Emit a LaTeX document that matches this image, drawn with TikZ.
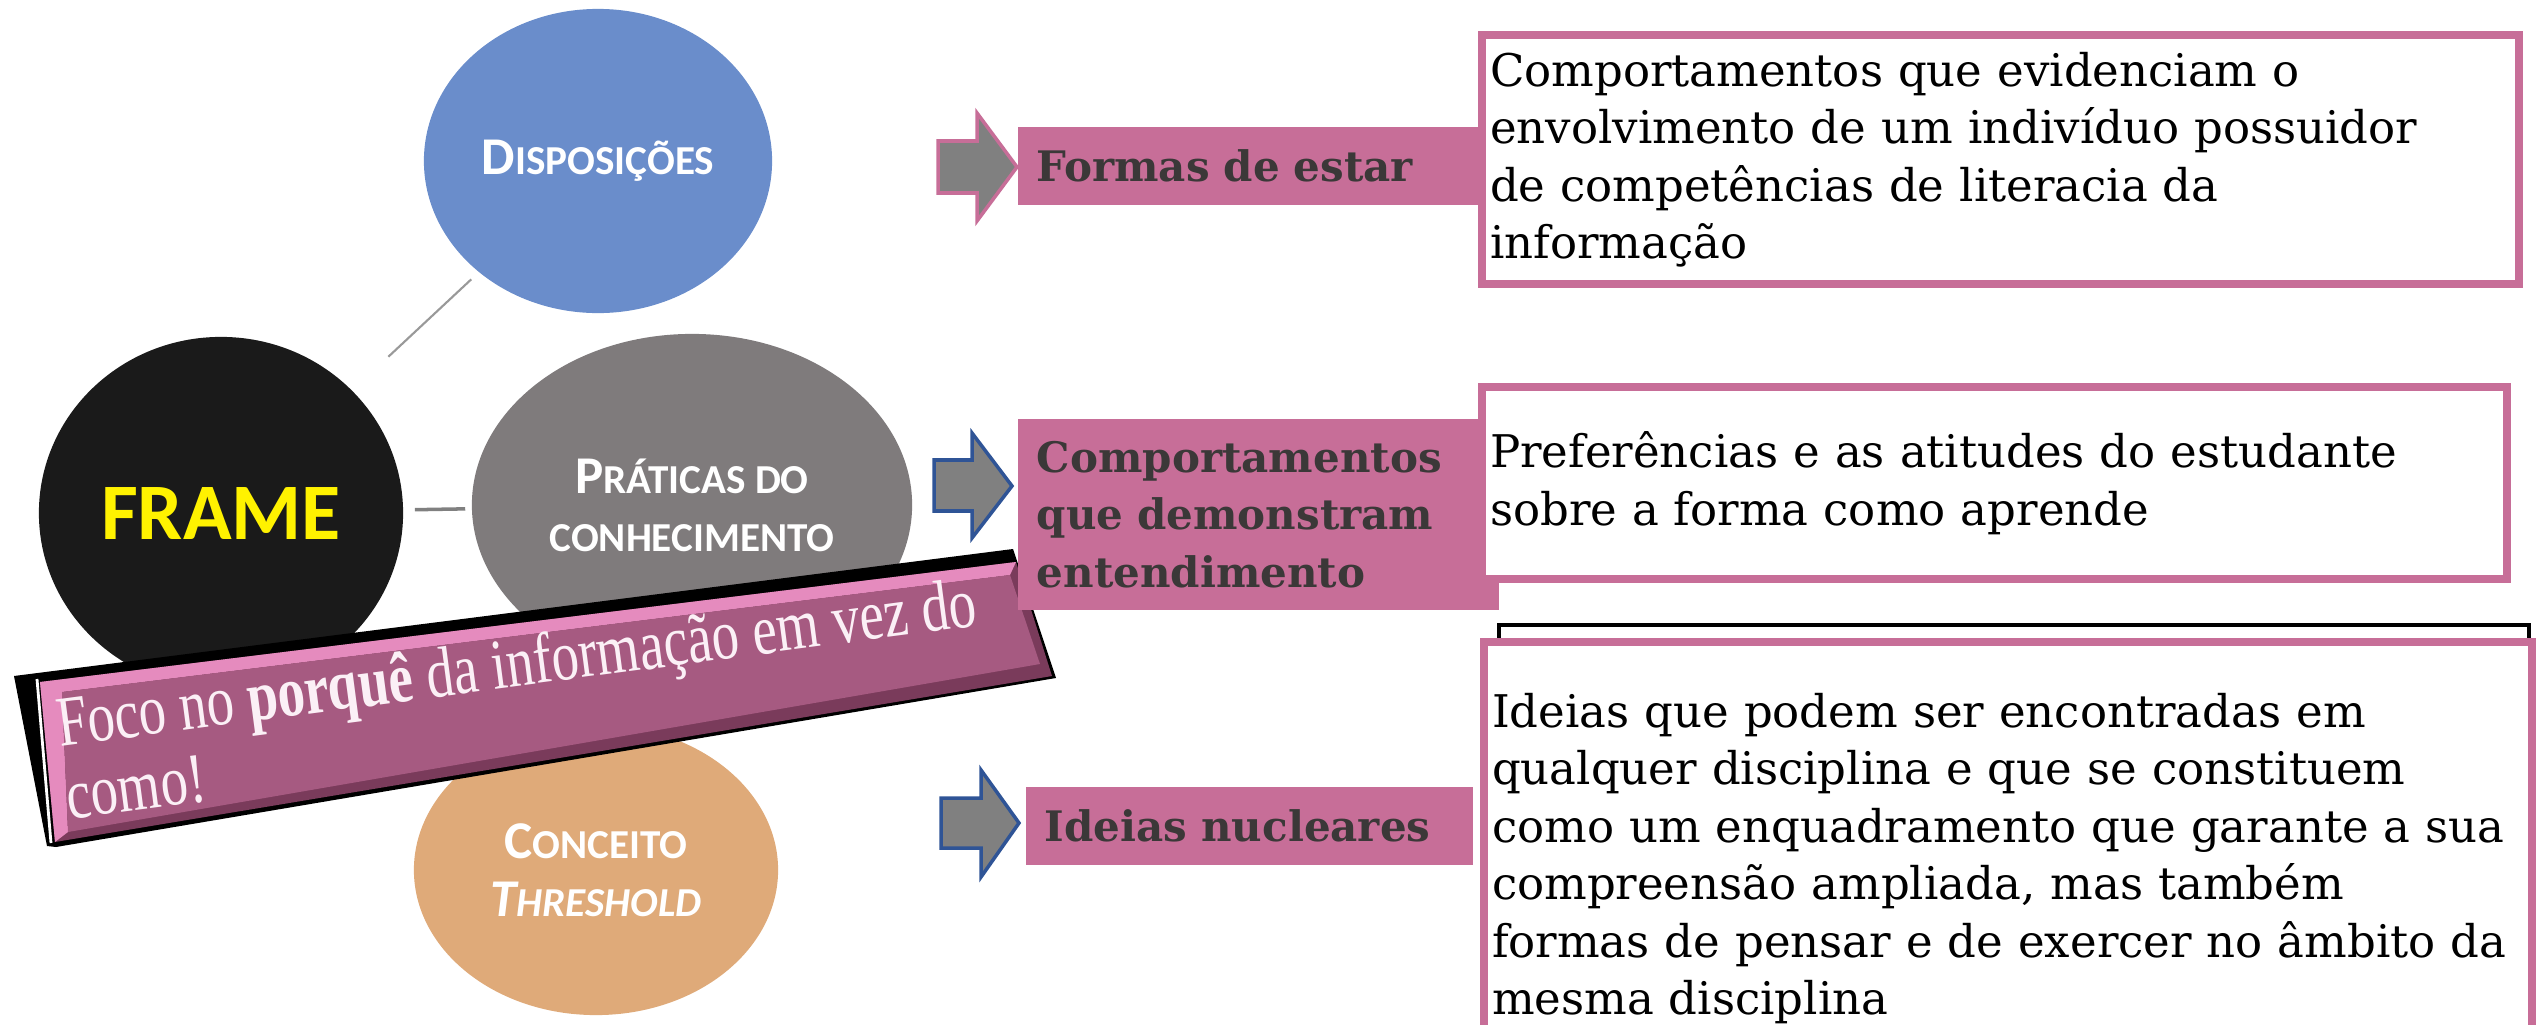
\documentclass[tikz,border=0pt]{standalone}
\usepackage{fontspec}
\setmainfont{DejaVu Serif}
\newfontfamily\bubblefont{Carlito}
\newfontfamily\bannerfont{Liberation Serif}
\usetikzlibrary{shapes.geometric}

\definecolor{dispblue}{HTML}{6A8DCB}
\definecolor{pratgray}{HTML}{7F7B7C}
\definecolor{frameblack}{HTML}{1A1A1A}
\definecolor{concorange}{HTML}{DFAA79}
\definecolor{tagpink}{HTML}{C76E98}
\definecolor{tagtext}{HTML}{3B3838}
\definecolor{arrowgray}{HTML}{808080}
\definecolor{arrowblue}{HTML}{2F5496}
\definecolor{bannerface}{HTML}{A65A81}
\definecolor{bannerlight}{HTML}{E58BBE}
\definecolor{bannerdark}{HTML}{7A3B5B}
\definecolor{bannertext}{HTML}{FBF0F6}

\newcommand{\bubcap}[2]{{\fontsize{15.1pt}{16.5pt}\selectfont #1}#2}

\begin{document}
\begin{tikzpicture}[x=0.01cm, y=-0.01cm,
	bubble/.style={ellipse, inner sep=0pt, text=white, align=center,
		font=\bubblefont\bfseries\fontsize{11.7pt}{16.5pt}\selectfont},
	link/.style={draw=gray!80, line width=0.6pt},
	blockarrow/.style={fill=arrowgray, line width=1pt, line join=miter},
	tag/.style={fill=tagpink, anchor=north west, inner xsep=0.19cm, align=left, text=tagtext,
		font=\bfseries\fontsize{11.95pt}{16.36pt}\selectfont},
	infobox/.style={draw=tagpink, line width=0.08cm, fill=white, anchor=north west,
		inner xsep=0.08cm, align=left, font=\fontsize{12.8pt}{16.36pt}\selectfont}]
	\useasboundingbox (0,0) rectangle (2539,1024);

	% bubbles
	\node[bubble, fill=dispblue, minimum width=3.48cm, minimum height=3.04cm] (disp) at (598,161) {\bubcap{D}{ISPOSIÇÕES}};
	\node[bubble, fill=frameblack, minimum width=3.64cm, minimum height=3.52cm, text=yellow,
		font=\bubblefont\bfseries\fontsize{22.8pt}{24pt}\selectfont] (frame) at (221,513) {FRAME};
	\node[bubble, fill=pratgray, minimum width=4.40cm, minimum height=3.42cm] (prat) at (692,505) {\bubcap{P}{RÁTICAS DO}\\CONHECIMENTO};
	\node[bubble, fill=concorange, minimum width=3.64cm, minimum height=2.90cm] (conc) at (596,870) {\bubcap{C}{ONCEITO}\\\textit{\bubcap{T}{HRESHOLD}}};

	\draw[link, shorten <=0.49cm, shorten >=0.1cm] (frame) -- (disp);
	\draw[link, draw=gray, line width=1pt, shorten <=0.11cm, shorten >=0.06cm] (frame) -- (prat);

	% banner
	\fill (14,676) -- (1013,549) -- (1056,678) -- (56,847) -- (47,846) -- cycle;
	\fill[bannerdark] (40,682) -- (1016,562) -- (1052,676) -- (55,842) -- cycle;
	\fill[bannerlight] (40,682) -- (1016,562) -- (1010,575) -- (62,692) -- (68,832) -- (55,842) -- cycle;
	\fill[bannerface] (62,692) -- (1010,575) -- (1040,664) -- (68,832) -- cycle;
	\draw[white, line width=0.8pt] (37,679) -- (51,843);
	\node[transform shape, rotate=7.5, yscale=1.3, text=bannertext, align=left, inner sep=0pt,
		font=\bannerfont\fontsize{15.6pt}{16pt}\selectfont] (focus) at (521,698)
		{Foco no \textbf{porquê} da informação em vez do\\como!};

	% arrows
	\draw[blockarrow, draw=tagpink] (938,141) -- (977,141) -- (977,113) -- (1017,167) -- (977,221) -- (977,193) -- (938,193) -- cycle;
	\draw[blockarrow, draw=arrowblue] (934,460) -- (972,460) -- (972,433) -- (1012,486) -- (972,538) -- (972,511) -- (934,511) -- cycle;
	\draw[blockarrow, draw=arrowblue] (941,798) -- (981,798) -- (981,770) -- (1019,823) -- (981,877) -- (981,848) -- (941,848) -- cycle;

	% tags
	\node[tag, minimum width=4.61cm, minimum height=0.78cm, text width=4.23cm] (formas) at (1017,126) {Formas de estar};
	\node[tag, minimum width=4.81cm, minimum height=1.91cm, text width=4.43cm] (comport) at (1017,418) {Comportamentos\\que demonstram\\entendimento};
	\node[tag, minimum width=4.47cm, minimum height=0.78cm, text width=4.09cm] (nucleo) at (1025,786) {Ideias nucleares};

	% text boxes
	\draw[line width=1pt] (1499,625) rectangle (2529,700);
	\node[infobox, minimum width=10.36cm, minimum height=2.49cm, text width=10.2cm] (info1) at (1478,31)
		{Comportamentos que evidenciam o\\envolvimento de um indivíduo possuidor\\de competências de literacia da\\informação};
	\node[infobox, minimum width=10.24cm, minimum height=1.92cm, text width=10.08cm] (info2) at (1478,383)
		{Preferências e as atitudes do estudante\\sobre a forma como aprende};
	\node[infobox, minimum width=10.47cm, minimum height=4.33cm, text width=10.31cm] (info3) at (1480,638)
		{Ideias que podem ser encontradas em\\qualquer disciplina e que se constituem\\como um enquadramento que garante a sua\\compreensão ampliada, mas também\\formas de pensar e de exercer no âmbito da\\mesma disciplina};
\end{tikzpicture}
\end{document}
